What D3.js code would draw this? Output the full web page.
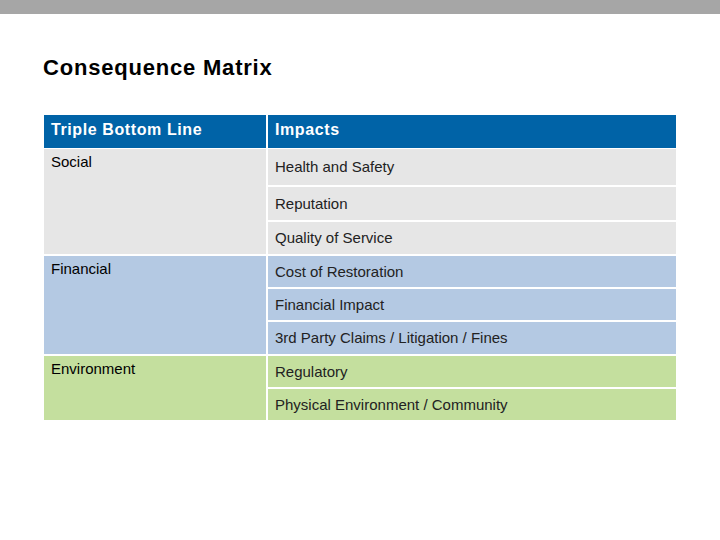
<!DOCTYPE html>
<html><head><meta charset="utf-8">
<script src="https://cdn.jsdelivr.net/npm/d3@7"></script>
<style>body{margin:0;background:#fff}</style>
</head><body>
<script>
const headers = ["Triple Bottom Line", "Impacts"];
const groups = ["Social", "Financial", "Environment"];
const groupColors = ["#e6e6e6", "#b4c9e3", "#c4df9e"];
const impacts = [
  ["Health and Safety", "Reputation", "Quality of Service"],
  ["Cost of Restoration", "Financial Impact", "3rd Party Claims / Litigation / Fines"],
  ["Regulatory", "Physical Environment / Community"]
];
const rowEdges = [148, 186, 221, 255, 288, 321, 355, 388, 421];

const svg = d3.select("body").append("svg").attr("width", 720).attr("height", 540);
svg.append("rect").attr("width", 720).attr("height", 14).attr("fill", "#a6a6a6");
svg.append("text").attr("x", 43).attr("y", 75).text("Consequence Matrix")
  .attr("font-family", "Arial, Liberation Sans").attr("font-weight", "bold")
  .attr("font-size", 22).attr("letter-spacing", 0.8).attr("fill", "#000");

const x = d3.scaleOrdinal().domain([0, 1]).range([44, 268]);
const w = [222, 408];
const font = "Arial, Liberation Sans";

// header
headers.forEach((h, i) => {
  svg.append("rect").attr("x", x(i)).attr("y", 115).attr("width", w[i]).attr("height", 33).attr("fill", "#0063a7");
  svg.append("text").attr("x", x(i) + 7).attr("y", 135).text(h)
    .attr("font-family", font).attr("font-weight", "bold").attr("font-size", 16)
    .attr("letter-spacing", 0.6).attr("fill", "#fff");
});

let r = 0;
groups.forEach((g, gi) => {
  const top = rowEdges[r], bottom = rowEdges[r + impacts[gi].length];
  svg.append("rect").attr("x", x(0)).attr("y", top + 1).attr("width", w[0]).attr("height", bottom - top - 2).attr("fill", groupColors[gi]);
  svg.append("text").attr("x", x(0) + 7).attr("y", top + 19).text(g)
    .attr("font-family", font).attr("font-size", 15).attr("fill", "#000");
  impacts[gi].forEach((t, k) => {
    const y0 = rowEdges[r + k], y1 = rowEdges[r + k + 1];
    svg.append("rect").attr("x", x(1)).attr("y", y0 + 1).attr("width", w[1]).attr("height", y1 - y0 - 2).attr("fill", groupColors[gi]);
    svg.append("text").attr("x", x(1) + 7).attr("y", (y0 + y1) / 2 + 5).text(t)
      .attr("font-family", font).attr("font-size", 15).attr("fill", "#222");
  });
  r += impacts[gi].length;
});
</script>
</body></html>
